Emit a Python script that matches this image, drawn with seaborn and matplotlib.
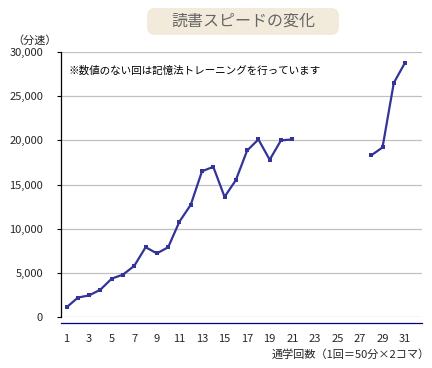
import numpy as np
import pandas as pd
import matplotlib
matplotlib.use('Agg')
import matplotlib.pyplot as plt
from matplotlib.patches import FancyBboxPatch
from matplotlib.transforms import IdentityTransform
from matplotlib.ticker import FuncFormatter
import seaborn as sns

# Data (None = memory training session, no reading value)
sessions = list(range(1, 33))
speed = [1100, 2200, 2450, 3100, 4350, 4800, 5800, 7900, 7200, 7900,
         10800, 12700, 16500, 17000, 13600, 15500, 18850, 20100, 17800, 20000,
         20100, None, None, None, None, None, None, 18300, 19200, 26500,
         28800, None]
xtick_labels = [str(i) for i in range(1, 32, 2)]

title = '読書スピードの変化'
note = '※数値のない回は記憶法トレーニングを行っています'
ylabel = '（分速）'
xlabel = '通学回数（1回＝50分×2コマ）'

line_color = '#333399'

sns.set_style('white')
plt.rcParams['font.family'] = ['Noto Sans CJK JP', 'DejaVu Sans']

df = pd.DataFrame({'session': sessions, 'speed': speed}).astype(float)
# split into connected runs so gaps are not bridged
df['segment'] = df['speed'].isna().cumsum()
df = df.dropna()

fig = plt.figure(figsize=(4.32, 3.68), dpi=100)
ax = fig.add_axes([61 / 432, 1 - 317 / 368, 361 / 432, 265 / 368])

sns.lineplot(data=df, x='session', y='speed', units='segment', estimator=None,
             color=line_color, linewidth=1.6, marker='s', markersize=3.4,
             markeredgewidth=0, ax=ax)

ax.set_xlim(0.5, 32.5)
ax.set_ylim(0, 30000)
ax.set_xticks(range(1, 32, 2))
ax.set_xticklabels(xtick_labels)
ax.set_xticks(np.arange(1.5, 33, 1), minor=True)
ax.tick_params(axis='x', which='major', length=0, pad=8, labelsize=8)
ax.tick_params(axis='x', which='minor', direction='in', length=4, width=0.8,
               color='black')
ax.set_yticks(range(0, 30001, 5000))
ax.yaxis.set_major_formatter(FuncFormatter(lambda v, p: f'{int(v):,}'))
ax.tick_params(axis='y', length=3, width=0.8, pad=10, labelsize=8,
               left=True, color='black')
ax.set_xlabel('')
ax.set_ylabel('')

ax.grid(axis='y', color='#c0c0c0', linewidth=0.9)
ax.set_axisbelow(True)
for side in ['top', 'right']:
    ax.spines[side].set_visible(False)
ax.spines['left'].set_color('black')
ax.spines['left'].set_linewidth(0.9)
ax.spines['bottom'].set_color('#000080')
ax.spines['bottom'].set_linewidth(0.9)
ax.spines['bottom'].set_position(('outward', 4))

ax.text(0.02, 0.93, note, transform=ax.transAxes, fontsize=7.6, va='center',
        ha='left', color='black')

fig.text(35 / 432, 1 - 41 / 368, ylabel, fontsize=8, ha='center', va='center')
fig.text(430 / 432, 1 - 355 / 368, xlabel, fontsize=8, ha='right', va='center')

box = FancyBboxPatch((147, 368 - 35), 192, 27,
                     boxstyle='round,pad=0,rounding_size=8',
                     facecolor='#f2ebdc', edgecolor='none',
                     transform=IdentityTransform())
fig.patches.append(box)
fig.text(243 / 432, 1 - 21 / 368, title, fontsize=11.5, color='#666666',
         ha='center', va='center')

fig.savefig('out.png', dpi=100, facecolor='white')
